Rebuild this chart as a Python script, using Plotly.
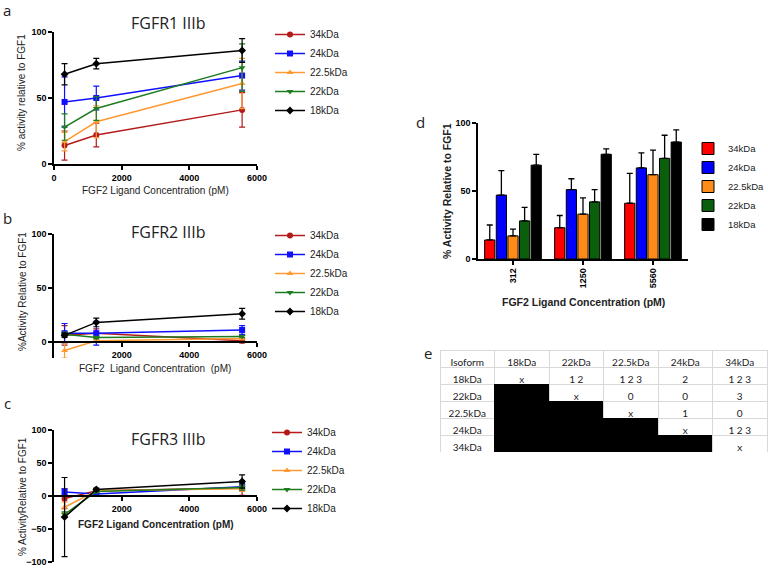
import plotly.graph_objects as go

W, H = 768, 568

# data
conc = [312, 1250, 5560]
conc_labels = ["312", "1250", "5560"]
isoforms = ["34kDa", "24kDa", "22.5kDa", "22kDa", "18kDa"]

# panel a - FGFR1 IIIb
a_mean = [[14, 22, 41], [47, 50, 67], [17, 32, 61], [28, 42, 73], [68, 76, 86]]
a_err = [[11, 9, 13], [19, 9, 11], [7, 12, 19], [10, 9, 18], [8, 4, 9]]
# panel b - FGFR2 IIIb
b_mean = [[6, 8, 1], [8, 8, 11], [-8, 1, 3], [7, 4, 5], [6, 18, 26]]
b_err = [[9, 4, 2], [9, 11, 4], [7, 1, 1], [2, 1, 1], [2, 4, 5]]
# panel c - FGFR3 IIIb
c_mean = [[-4, 8, 12], [6, 3, 14], [-17, 8, 11], [-28, 7, 13], [-32, 10, 22]]
c_err = [[15, 3, 11], [5, 2, 5], [8, 2, 4], [4, 2, 4], [60, 2, 10]]
# panel d - bars (FGFR1)
d_mean = [[14, 23, 41], [47, 51, 67], [17, 33, 62], [28, 42, 74], [69, 77, 86]]
d_err = [[11, 9, 22], [18, 8, 11], [5, 12, 18], [10, 9, 17], [8, 4, 9]]

# table e
tbl_header = ["Isoform", "18kDa", "22kDa", "22.5kDa", "24kDa", "34kDa"]
tbl_rows = ["18kDa", "22kDa", "22.5kDa", "24kDa", "34kDa"]
tbl_cells = [
    ["x", "1 2", "1 2 3", "2", "1 2 3"],
    ["", "x", "0", "0", "3"],
    ["", "", "x", "1", "0"],
    ["", "", "", "x", "1 2 3"],
    ["", "", "", "", "x"],
]

line_cols = ["#b31b1b", "#1010ff", "#ff9a33", "#1e7b1e", "#000000"]
bar_cols = ["#ff0000", "#0000ff", "#ff8c1a", "#0b5e0b", "#000000"]
symbols = ["circle", "square", "triangle-up", "triangle-down", "diamond"]

AR = "Liberation Sans, Arial"
OS = "Open Sans"


def px(x):
    return x / W


def py(y):
    return 1 - y / H


fig = go.Figure()

panels = [(a_mean, a_err, "x", "y", "legend"),
          (b_mean, b_err, "x2", "y2", "legend2"),
          (c_mean, c_err, "x3", "y3", "legend3")]
for means, errs, xa, ya, lg in panels:
    for i, name in enumerate(isoforms):
        fig.add_trace(go.Scatter(
            x=conc, y=means[i], name=name, xaxis=xa, yaxis=ya, legend=lg,
            mode="lines+markers",
            line=dict(color=line_cols[i], width=1.5),
            marker=dict(symbol=symbols[i], size=6, color=line_cols[i]),
            error_y=dict(type="data", array=errs[i], color=line_cols[i], thickness=1.2, width=3),
        ))

for i, name in enumerate(isoforms):
    fig.add_trace(go.Bar(
        x=conc_labels, y=d_mean[i], name=name, xaxis="x4", yaxis="y4", legend="legend4",
        marker=dict(color=bar_cols[i], line=dict(color="black", width=1)),
        error_y=dict(type="data", symmetric=False, array=d_err[i], arrayminus=[0, 0, 0],
                     color="black", thickness=1.3, width=3),
    ))

# table e
n = len(tbl_rows)
cols_vals = [tbl_rows]
fills = [["white"] * n]
lines = [["#d9d9d9"] * n]
for c in range(5):
    cols_vals.append([tbl_cells[r][c] for r in range(n)])
    fills.append(["black" if c < r else "white" for r in range(n)])
    lines.append(["black" if c < r else "#d9d9d9" for r in range(n)])

tfont = dict(family="Lato", size=10, color="#222")
fig.add_trace(go.Table(
    domain=dict(x=[px(440), px(767)], y=[py(452), py(350)]),
    columnwidth=[1] * 6,
    header=dict(values=tbl_header, height=17, align="center", fill_color="white",
                line=dict(color="#d9d9d9", width=1), font=tfont),
    cells=dict(values=cols_vals, height=17, align="center", fill_color=fills,
               line=dict(color=lines, width=1), font=tfont),
))

tickf = dict(family=AR, size=9, color="black", weight="bold")
axcommon = dict(showline=True, linecolor="black", linewidth=1.5, ticks="outside",
                ticklen=4, tickwidth=1.5, tickcolor="black", showgrid=False, automargin=False,
                zeroline=False, tickfont=tickf, fixedrange=True)

legf = dict(family=AR, size=10, color="#222")
xdom = [px(54), px(257)]
fig.update_layout(
    width=W, height=H, margin=dict(l=0, r=0, t=0, b=0, autoexpand=False),
    paper_bgcolor="white", plot_bgcolor="white",
    barmode="group", bargap=0.17, bargroupgap=0.12,
    xaxis=dict(domain=xdom, range=[0, 6000], tickvals=[0, 2000, 4000, 6000], anchor="y", **axcommon),
    yaxis=dict(domain=[py(164), py(32)], range=[0, 100], tickvals=[0, 50, 100], anchor="x", **axcommon),
    xaxis2=dict(domain=xdom, range=[0, 6000], tickvals=[2000, 4000, 6000], anchor="free",
                position=py(342), **axcommon),
    yaxis2=dict(domain=[py(358), py(234)], range=[-15, 100], tickvals=[0, 50, 100], anchor="x2", **axcommon),
    xaxis3=dict(domain=xdom, range=[0, 6000], tickvals=[2000, 4000, 6000], anchor="free",
                position=py(496), **axcommon),
    yaxis3=dict(domain=[py(562), py(430)], range=[-100, 100], tickvals=[-100, -50, 0, 50, 100],
                anchor="x3", **axcommon),
    xaxis4=dict(domain=[px(478), px(688)], anchor="y4", tickangle=-90, **axcommon),
    yaxis4=dict(domain=[py(259), py(123)], range=[0, 100], tickvals=[0, 50, 100], anchor="x4", **axcommon),
    legend=dict(x=px(270), y=py(20), xanchor="left", yanchor="top", font=legf,
                tracegroupgap=0, itemwidth=30, bgcolor="rgba(0,0,0,0)"),
    legend2=dict(x=px(270), y=py(221), xanchor="left", yanchor="top", font=legf,
                 tracegroupgap=0, itemwidth=30, bgcolor="rgba(0,0,0,0)"),
    legend3=dict(x=px(267), y=py(418), xanchor="left", yanchor="top", font=legf,
                 tracegroupgap=0, itemwidth=30, bgcolor="rgba(0,0,0,0)"),
    legend4=dict(x=px(688), y=py(134), xanchor="left", yanchor="top", font=dict(family=AR, size=9.5, color="#222"),
                 tracegroupgap=0, itemwidth=30, bgcolor="rgba(0,0,0,0)"),
)

ann = [
    ("a", 7, 10, OS, 15, "normal", 0),
    ("b", 7, 218, OS, 15, "normal", 0),
    ("c", 7, 403, OS, 15, "normal", 0),
    ("d", 420, 122, OS, 15, "normal", 0),
    ("e", 428, 353, OS, 15, "normal", 0),
    ("FGFR1 IIIb", 168, 23, OS, 16, "normal", 0),
    ("FGFR2 IIIb", 168, 232, OS, 16, "normal", 0),
    ("FGFR3 IIIb", 168, 439, OS, 16, "normal", 0),
    ("FGF2 Ligand Concentration (pM)", 155, 190, AR, 10, "normal", 0),
    ("% activity relative to FGF1", 21, 93, AR, 10, "normal", -90),
    ("FGF2  Ligand Concentration  (pM)", 155, 368, AR, 10, "normal", 0),
    ("%Activity Relative to FGF1", 22, 292, AR, 10, "normal", -90),
    ("FGF2 Ligand Concentration (pM)", 156, 524, AR, 10, "bold", 0),
    ("% ActivityRelative to FGF1", 22, 497, AR, 10, "normal", -90),
    ("% Activity Relative to FGF1", 447, 191, AR, 10.5, "bold", -90),
    ("FGF2 Ligand Concentration (pM)", 583, 302, AR, 10.5, "bold", 0),
]
for text, x, y, fam, size, wt, ang in ann:
    fig.add_annotation(text=text, x=px(x), y=py(y), xref="paper", yref="paper",
                       xanchor="center", yanchor="middle", showarrow=False, textangle=ang,
                       font=dict(family=fam, size=size, color="#222", weight=wt))

# the page's default body margin would shift the whole figure by 8px
fig.write_html("out.html", config={"displayModeBar": False},
               post_script="document.body.style.margin='0px';")
